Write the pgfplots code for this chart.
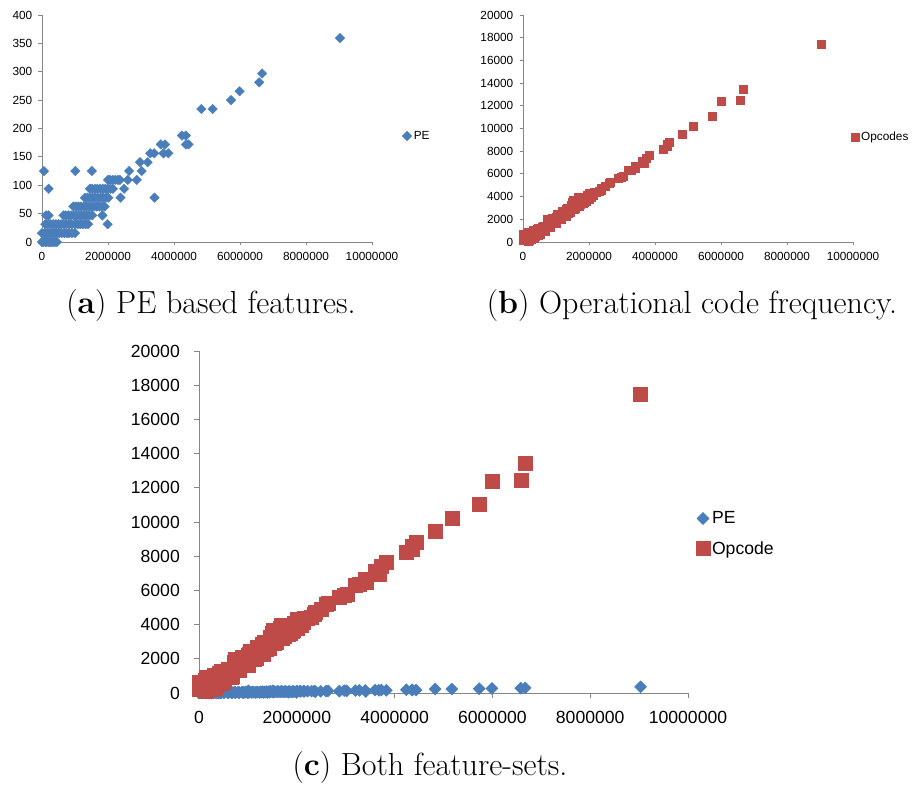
\documentclass[border=0pt]{standalone}
\usepackage{pgfplots}
\pgfplotsset{compat=1.18}
\usepackage{pgfplotstable}
\usepackage{fontspec}
\newfontfamily\arial{Liberation Sans}

\definecolor{peblue}{HTML}{4A7EBB}
\definecolor{opred}{HTML}{BE4B48}
\definecolor{axisgray}{HTML}{868686}

% size = sample size, pe = PE based feature count, op = opcode count
\pgfplotstableread{
size     pe     op
0        0      650
50000    0      300
100000   0      500
150000   0      100
200000   0      700
250000   0      250
300000   0      850
350000   0      400
400000   0      1000
450000   0      600
0        15.6   200
80000    15.6   550
150000   15.6   900
220000   15.6   350
300000   15.6   1050
380000   15.6   500
450000   15.6   1250
520000   15.6   700
600000   15.6   1400
680000   15.6   1000
750000   15.6   1700
820000   15.6   1350
910000   15.6   2000
1000000  15.6   1700
100000   31.3   450
180000   31.3   200
260000   31.3   800
340000   31.3   300
420000   31.3   1150
500000   31.3   650
580000   31.3   1300
660000   31.3   950
740000   31.3   2000
820000   31.3   1400
900000   31.3   2050
1000000  31.3   1650
1080000  31.3   2350
1160000  31.3   2050
1240000  31.3   2600
1320000  31.3   2300
1400000  31.3   3000
1990000  31.3   3800
120000   46.9   750
200000   46.9   400
650000   46.9   1150
720000   46.9   1800
800000   46.9   1450
880000   46.9   2100
960000   46.9   1750
1040000  46.9   2450
1120000  46.9   2000
1200000  46.9   2500
1280000  46.9   2250
1360000  46.9   2850
1440000  46.9   2600
1520000  46.9   3300
1830000  46.9   3450
950000   62.5   1800
1030000  62.5   2300
1100000  62.5   2150
1180000  62.5   2700
1260000  62.5   2400
1340000  62.5   3000
1420000  62.5   2700
1500000  62.5   3500
1580000  62.5   3000
1660000  62.5   3800
1740000  62.5   3300
1820000  62.5   3900
1900000  62.5   3600
1300000  78.1   2850
1380000  78.1   2550
1460000  78.1   3250
1540000  78.1   2900
1620000  78.1   3650
1700000  78.1   3200
1780000  78.1   3850
1860000  78.1   3500
1940000  78.1   4100
2010000  78.1   3800
2380000  78.1   4700
3410000  78.1   6500
200000   93.8   550
1450000  93.8   3100
1520000  93.8   3700
1600000  93.8   3300
1680000  93.8   3950
1760000  93.8   3450
1840000  93.8   3950
1920000  93.8   3700
2000000  93.8   4300
2080000  93.8   3950
2150000  93.8   4400
2490000  93.8   4900
2000000  109.4  4000
2060000  109.4  4310
2140000  109.4  4150
2220000  109.4  4370
2300000  109.4  4450
2360000  109.4  4600
2600000  109.4  5190
2870000  109.4  5630
60000    125    400
1010000  125    2200
1510000  125    3400
2640000  125    5250
3020000  125    5800
2970000  140.6  5700
3200000  140.6  6300
3280000  156.3  6360
3400000  156.3  6660
3680000  156.3  6950
3830000  156.3  7630
3600000  171.9  7150
3730000  171.9  7390
4360000  171.9  8600
4440000  171.9  8800
4240000  187.5  8210
4360000  187.5  8420
4830000  234.4  9470
5170000  234.4  10240
5730000  250    11060
5990000  265.6  12380
6580000  281.3  12470
6670000  296.9  13460
9030000  359.4  17450
}\samples

\pgfplotsset{
  sheet/.style={
    scale only axis, clip=false, enlargelimits=false,
    scaled ticks=false,
    axis lines=left, axis line style={-, axisgray, line width=0.9pt},
    tick style={axisgray, line width=0.9pt},
    tick align=outside,
    xmin=0, xmax=10000000, ymin=0,
    xtick={0,2000000,4000000,6000000,8000000,10000000},
    xticklabels={0,2000000,4000000,6000000,8000000,10000000},
    tick label style={inner sep=0pt, text=black},
    legend style={draw=none, fill=none, inner sep=0pt, anchor=west,
      legend cell align=left},
    legend image code/.code={\draw[##1] plot coordinates {(0pt,0pt)};},
  },
  small sheet/.style={
    sheet, width=330pt, height=227pt,
    major tick length=3.5pt,
    tick label style={font=\arial\fontsize{11.8}{13}\selectfont},
    legend style={font=\arial\fontsize{11.8}{13}\selectfont},
    xticklabel shift=7pt, yticklabel shift=6pt,
  },
}

\begin{document}
\begin{tikzpicture}[x=1pt,y=1pt]
\useasboundingbox (0,0) rectangle (914,787);

% (a) PE based features
\begin{axis}[small sheet, at={(42pt,545pt)}, anchor=south west,
  ymax=400, ytick={0,50,...,400},
  yticklabels={0,50,100,150,200,250,300,350,400},
  legend style={at={(1.091,0.467)}}]
\addplot[only marks, mark=square*, mark size=3.4pt,
  mark options={rotate=45, fill=peblue, draw=peblue, line width=0.3pt}]
  table[x=size, y=pe] {\samples};
\addlegendentry{PE}
\end{axis}

% (b) operational code frequency
\begin{axis}[small sheet, at={(523pt,545pt)}, anchor=south west,
  ymax=20000, ytick={0,2000,...,20000},
  yticklabels={0,2000,4000,6000,8000,10000,12000,14000,16000,18000,20000},
  legend style={at={(0.994,0.463)}}]
\addplot[only marks, mark=square*, mark size=4pt,
  mark options={fill=opred, draw=opred, line width=0.3pt}]
  table[x=size, y=op] {\samples};
\addlegendentry{Opcodes}
\end{axis}

% (c) both feature sets
\begin{axis}[sheet, at={(199pt,94pt)}, anchor=south west,
  width=489pt, height=342pt,
  major tick length=5pt,
  tick label style={font=\arial\fontsize{17.6}{20}\selectfont},
  legend style={font=\arial\fontsize{17.6}{20}\selectfont,
    at={(1.016,0.466)}, row sep=12pt},
  xticklabel shift=13pt, yticklabel shift=14pt,
  ymax=20000, ytick={0,2000,...,20000},
  yticklabels={0,2000,4000,6000,8000,10000,12000,14000,16000,18000,20000}]
\addplot[only marks, mark=square*, mark size=4.3pt,
  mark options={rotate=45, fill=peblue, draw=peblue, line width=0.3pt}]
  table[x=size, y=pe] {\samples};
\addlegendentry{PE}
\addplot[only marks, mark=square*, mark size=7pt,
  mark options={fill=opred, draw=opred, line width=0.3pt}]
  table[x=size, y=op] {\samples};
\addlegendentry{Opcode}
\end{axis}

% sub-figure captions
\node[anchor=base, font=\fontsize{32}{36}\selectfont] at (211,473)
  {(\textbf{a}) PE based features.};
\node[anchor=base, font=\fontsize{32}{36}\selectfont] at (692,473)
  {(\textbf{b}) Operational code frequency.};
\node[anchor=base, font=\fontsize{32}{36}\selectfont] at (430,11)
  {(\textbf{c}) Both feature-sets.};
\end{tikzpicture}
\end{document}
